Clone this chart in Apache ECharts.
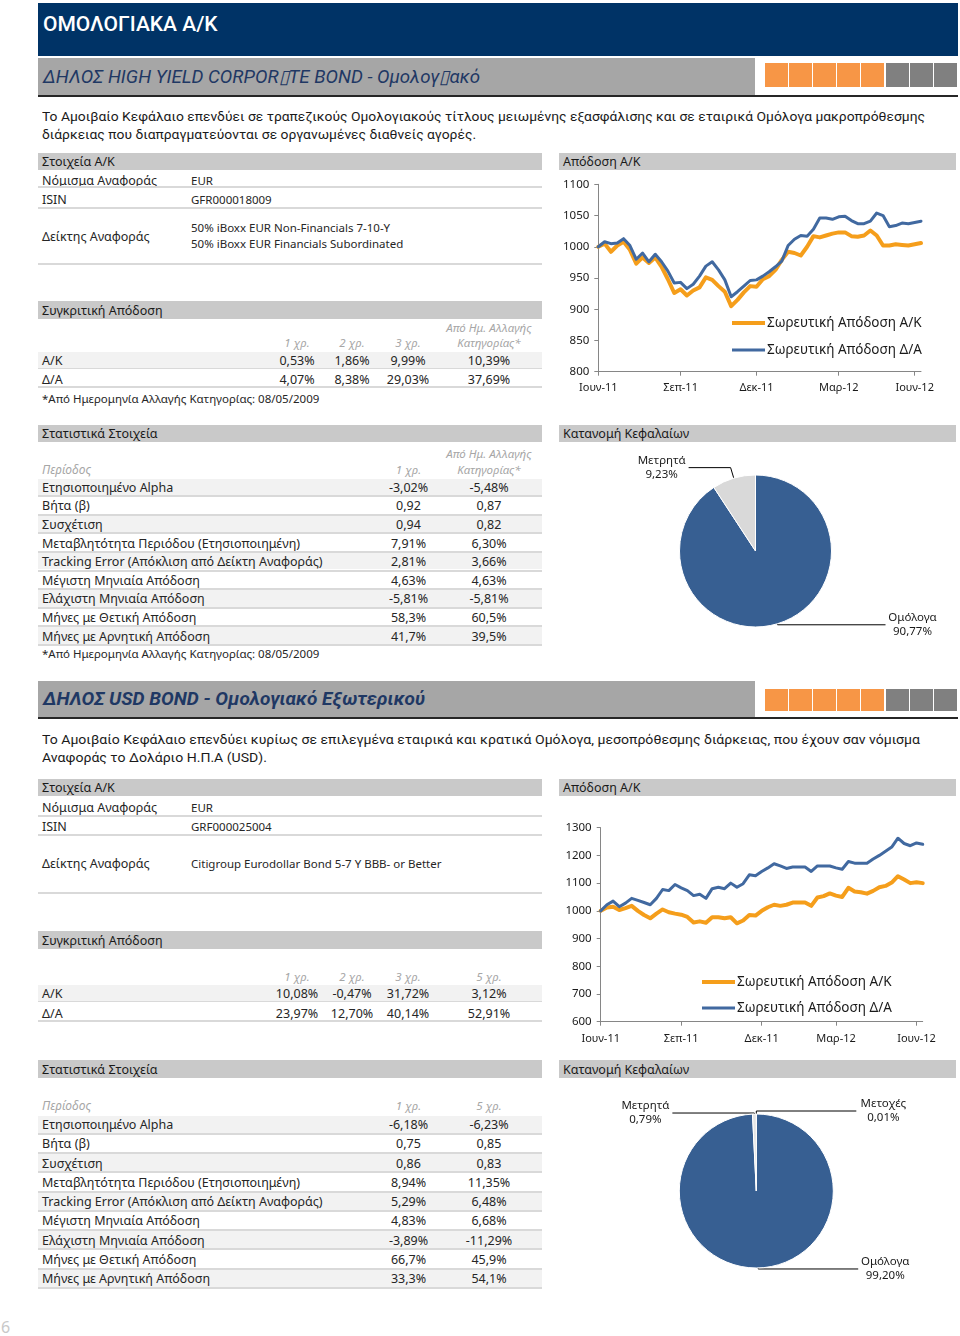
<!DOCTYPE html>
<html lang="el">
<head>
<meta charset="utf-8">
<title>ΟΜΟΛΟΓΙΑΚΑ Α/Κ</title>
<script src="https://cdn.jsdelivr.net/npm/echarts@6.0.0/dist/echarts.min.js"></script>
<style>
html,body{margin:0;padding:0;}
body{width:960px;height:1336px;position:relative;overflow:hidden;background:#fff;font-family:"Noto Sans",sans-serif;color:#262626;}
.t{position:absolute;white-space:nowrap;font-size:12px;}
.b{position:absolute;}
.chart{position:absolute;}
</style>
</head>
<body>
<script>
// ================= DATA =================
const pageTitle = 'ΟΜΟΛΟΓΙΑΚΑ Α/Κ';
const pageNumber = '6';

const f1Title = 'ΔΗΛΟΣ HIGH YIELD CORPOR\u25AFTE BOND - Ομολογ\u25AFακό';
const f2Title = 'ΔΗΛΟΣ USD BOND - Ομολογιακό Εξωτερικού';

const f1Desc = [
  'Το Αμοιβαίο Κεφάλαιο επενδύει σε τραπεζικούς Ομολογιακούς τίτλους μειωμένης εξασφάλισης και σε εταιρικά Ομόλογα μακροπρόθεσμης',
  'διάρκειας που διαπραγματεύονται σε οργανωμένες διαθνείς αγορές.'
];
const f2Desc = [
  'Το Αμοιβαίο Κεφάλαιο επενδύει κυρίως σε επιλεγμένα εταιρικά και κρατικά Ομόλογα, μεσοπρόθεσμης διάρκειας, που έχουν σαν νόμισμα',
  'Αναφοράς το Δολάριο Η.Π.Α (USD).'
];

const secInfo = 'Στοιχεία Α/Κ';
const secPerf = 'Συγκριτική Απόδοση';
const secStats = 'Στατιστικά Στοιχεία';
const secChart = 'Απόδοση Α/Κ';
const secPie = 'Κατανομή Κεφαλαίων';

const infoLabels = ['Νόμισμα Αναφοράς', 'ISIN', 'Δείκτης Αναφοράς'];
const f1Info = [['EUR'], ['GFR000018009'], ['50% iBoxx EUR Non-Financials 7-10-Y', '50% iBoxx EUR Financials Subordinated']];
const f2Info = [['EUR'], ['GRF000025004'], ['Citigroup Eurodollar Bond 5-7 Y BBB- or Better']];

const perfRowLabels = ['Α/Κ', 'Δ/Α'];
const sinceLabel = 'Από Ημ. Αλλαγής';
const f1PerfHeads = ['1 χρ.', '2 χρ.', '3 χρ.', 'Κατηγορίας*'];
const f1PerfFund = ['0,53%', '1,86%', '9,99%', '10,39%'];
const f1PerfBench = ['4,07%', '8,38%', '29,03%', '37,69%'];
const f2PerfHeads = ['1 χρ.', '2 χρ.', '3 χρ.', '5 χρ.'];
const f2PerfFund = ['10,08%', '-0,47%', '31,72%', '3,12%'];
const f2PerfBench = ['23,97%', '12,70%', '40,14%', '52,91%'];

const periodLabel = 'Περίοδος';
const statLabels = [
  'Ετησιοποιημένο Alpha', 'Βήτα (β)', 'Συσχέτιση',
  'Μεταβλητότητα Περιόδου (Ετησιοποιημένη)',
  'Tracking Error (Απόκλιση από Δείκτη Αναφοράς)',
  'Μέγιστη Μηνιαία Απόδοση', 'Ελάχιστη Μηνιαία Απόδοση',
  'Μήνες με Θετική Απόδοση', 'Μήνες με Αρνητική Απόδοση'
];
const f1StatHeads = ['1 χρ.', 'Κατηγορίας*'];
const f1StatCol1 = ['-3,02%', '0,92', '0,94', '7,91%', '2,81%', '4,63%', '-5,81%', '58,3%', '41,7%'];
const f1StatCol2 = ['-5,48%', '0,87', '0,82', '6,30%', '3,66%', '4,63%', '-5,81%', '60,5%', '39,5%'];
const f2StatHeads = ['1 χρ.', '5 χρ.'];
const f2StatCol1 = ['-6,18%', '0,75', '0,86', '8,94%', '5,29%', '4,83%', '-3,89%', '66,7%', '33,3%'];
const f2StatCol2 = ['-6,23%', '0,85', '0,83', '11,35%', '6,48%', '6,68%', '-11,29%', '45,9%', '54,1%'];
const footnote = '*Από Ημερομηνία Αλλαγής Κατηγορίας: 08/05/2009';

// line charts (weekly observations, Jun-11 .. Jun-12)
const xTickLabels = ['Ιουν-11', 'Σεπ-11', 'Δεκ-11', 'Μαρ-12', 'Ιουν-12'];
const c1TickIdx = [0, 13, 25, 38, 50];
const c2TickIdx = [0, 13, 26, 38, 51];
const legendNames = ['Σωρευτική Απόδοση Α/Κ', 'Σωρευτική Απόδοση Δ/Α'];
const c1Fund = [1000,1005,992,1002,1008,995,973,983,974,983,968,948,926,932,922,930,935,951,947,937,928,905,915,927,937,936,948,953,963,979,992,990,986,1000,1017,1015,1018,1021,1023,1023,1017,1016,1018,1026,1018,1002,1002,1004,1003,1002,1004,1006];
const c1Bench = [1000,1008,1005,1006,1013,1002,980,990,976,988,976,961,942,943,933,940,953,969,976,963,947,920,928,937,946,947,953,960,968,977,1002,1012,1018,1017,1028,1046,1046,1044,1048,1049,1042,1037,1037,1041,1054,1050,1032,1034,1038,1037,1039,1041];
const c2Fund = [1000,1012,1015,1003,1010,1018,1000,985,973,990,1005,995,990,986,978,958,962,957,977,977,973,977,955,965,985,983,1000,1013,1022,1018,1022,1030,1030,1030,1018,1048,1053,1063,1055,1050,1083,1070,1067,1062,1072,1085,1090,1102,1125,1113,1100,1103,1100];
const c2Bench = [1000,1022,1035,1015,1028,1045,1038,1030,1022,1045,1077,1073,1095,1083,1073,1055,1060,1045,1080,1085,1080,1100,1085,1098,1130,1127,1142,1155,1170,1162,1153,1158,1158,1158,1142,1162,1162,1162,1155,1150,1178,1172,1172,1172,1187,1200,1215,1230,1262,1243,1235,1245,1240];

// asset allocation
const pie1Names = ['Ομόλογα', 'Μετρητά'];
const pie1Values = [90.77, 9.23];
const pie2Names = ['Μετοχές', 'Ομόλογα', 'Μετρητά'];
const pie2Values = [0.01, 99.20, 0.79];

// ================= STYLE / LAYOUT =================
const NAVY = '#003366', TITLE_BLUE = '#1f3864', FUND_GRAY = '#a6a6a6', SEC_GRAY = '#c9c9c9';
const BAND = '#f2f2f2', SEP = '#d9d9d9', HEAD_GRAY = '#a6a6a6', TXT = '#262626';
const ORANGE = '#f59e1b', BLUE = '#4169a0', PIE_BLUE = '#375f92';
const SQUARE_COLORS = ['#f79646','#f79646','#f79646','#f79646','#f79646','#808080','#808080','#808080'];
const LEG_ICONS = ['path://M0,0 L33,0 L33,4 L0,4 Z', 'path://M0,0 L33,0 L33,3 L0,3 Z'];

function box(x, y, w, h, bg) {
  const d = document.createElement('div');
  d.className = 'b';
  Object.assign(d.style, {left: x + 'px', top: y + 'px', width: w + 'px', height: h + 'px', background: bg});
  document.body.appendChild(d);
  return d;
}
function text(s, x, yc, o = {}) {
  const d = document.createElement('div');
  d.className = 't';
  d.textContent = s;
  const lh = o.lh || 16;
  d.style.top = (yc - lh / 2) + 'px';
  d.style.lineHeight = lh + 'px';
  if (o.align === 'center') { d.style.left = (x - 100) + 'px'; d.style.width = '200px'; d.style.textAlign = 'center'; }
  else if (o.align === 'right') { d.style.left = (x - 200) + 'px'; d.style.width = '200px'; d.style.textAlign = 'right'; }
  else d.style.left = x + 'px';
  if (o.size) d.style.fontSize = o.size + 'px';
  d.style.color = o.color || TXT;
  if (o.italic) d.style.fontStyle = 'italic';
  if (o.weight) d.style.fontWeight = o.weight;
  if (o.family) d.style.fontFamily = o.family;
  if (o.ls) d.style.letterSpacing = o.ls + 'px';
  document.body.appendChild(d);
  return d;
}
function secBar(x, y, w, h, label) {
  box(x, y, w, h, SEC_GRAY);
  text(label, x + 4, y + h / 2 + 0.5, {size: 12.5, color: '#1a1a1a'});
}

// ---- page header
box(38, 3, 920, 53, NAVY);
text(pageTitle, 43, 24, {size: 21, color: '#ffffff', family: 'Roboto', weight: 500, lh: 30});
text(pageNumber, 1, 1327, {size: 16, color: '#c8c8c8', lh: 20});

const LX = 38, LW = 504, TX = 42, VX = 191;
const RX = 559, RW = 397;
const PERF_X = [297, 352, 408, 489];
const STAT_X = [408.5, 489];

function fundHeader(L, title, desc, bold) {
  box(38, L.barY, 717, L.barH, FUND_GRAY);
  text(title, 43, L.barY + L.barH / 2, {size: L.titleSize, color: TITLE_BLUE, family: 'Roboto', italic: true, weight: bold ? 700 : 400, lh: 24});
  SQUARE_COLORS.forEach((c, i) => {
    box(765 + i * 24.1, L.sqY, 23.1, L.sqH, c);
  });
  box(38, L.ruleY, 920, 2, '#262626');
  const d1 = text(desc[0], 42, L.descY[0], {size: 13.5, family: 'Roboto', lh: 18, color: '#1a1a1a'});
  const d2 = text(desc[1], 42, L.descY[1], {size: 13.5, family: 'Roboto', lh: 18, color: '#1a1a1a'});
  const w = d1.getBoundingClientRect().width;
  const k = L.descW / w;
  [d1, d2].forEach(d => { d.style.transformOrigin = 'left center'; d.style.transform = `scaleX(${k})`; });
}

function infoTable(L, info) {
  secBar(LX, L.infoBarY, LW, 17, secInfo);
  infoLabels.forEach((lab, i) => {
    text(lab, TX, L.infoY[i], {size: 12.5});
    info[i].forEach((v, j) => text(v, VX, L.infoValY[i][j], {size: 11.5}));
    box(LX, L.infoSep[i], LW, 2, SEP);
  });
}

function perfTable(L, heads, fundVals, benchVals, since, withNote) {
  secBar(LX, L.perfBarY, LW, 18, secPerf);
  if (since) text(since, PERF_X[3], L.perfHeadTopY, {size: 11.5, italic: true, color: HEAD_GRAY, align: 'center'});
  heads.forEach((h, i) => text(h, PERF_X[i], L.perfHeadY, {size: 11.5, italic: true, color: HEAD_GRAY, align: 'center'}));
  box(LX, L.perfBandY, LW, L.perfBandH, BAND);
  box(LX, L.perfSep[0], LW, 1, SEP);
  box(LX, L.perfSep[1], LW, 2, SEP);
  [fundVals, benchVals].forEach((vals, r) => {
    text(perfRowLabels[r], TX, L.perfRowY[r], {size: 12.5});
    vals.forEach((v, i) => text(v, PERF_X[i], L.perfRowY[r], {size: 12.5, align: 'center'}));
  });
  if (withNote) text(footnote, TX, L.perfNoteY, {size: 11.5});
}

function statsTable(L, heads, col1, col2, since, withNote) {
  secBar(LX, L.statBarY, LW, L.statBarH, secStats);
  if (since) text(since, STAT_X[1], L.statHeadTopY, {size: 11.5, italic: true, color: HEAD_GRAY, align: 'center'});
  text(periodLabel, TX, L.statHeadY, {size: 12, italic: true, color: HEAD_GRAY});
  heads.forEach((h, i) => text(h, STAT_X[i], L.statHeadY, {size: 11.5, italic: true, color: HEAD_GRAY, align: 'center'}));
  statLabels.forEach((lab, i) => {
    const top = L.statTop + i * L.statRH;
    if (i % 2 === 0) box(LX, top, LW, L.statRH - 2, BAND);
    box(LX, top + L.statRH - 2, LW, 2, SEP);
    const yc = top + L.statRH / 2;
    text(lab, TX, yc, {size: 12.5});
    text(col1[i], STAT_X[0], yc, {size: 12.5, align: 'center'});
    text(col2[i], STAT_X[1], yc, {size: 12.5, align: 'center'});
  });
  if (withNote) text(footnote, TX, L.statNoteY, {size: 11.5});
}

function chartDiv(x, y, w, h) {
  const d = document.createElement('div');
  d.className = 'chart';
  Object.assign(d.style, {left: x + 'px', top: y + 'px', width: w + 'px', height: h + 'px'});
  document.body.appendChild(d);
  return d;
}

function lineChart(L, fund, bench, tickIdx, yMin, yMax, yInt) {
  secBar(RX, L.chartBarY, RW, 17, secChart);
  const el = chartDiv(555, L.chartY, 405, L.chartH);
  const ch = echarts.init(el, null, {renderer: 'canvas'});
  const cats = fund.map((_, i) => String(i + 1));
  const showTick = (i) => tickIdx.includes(i);
  ch.setOption({
    animation: false,
    grid: L.grid,
    legend: {
      orient: 'vertical', left: L.legLeft, top: L.legTop, itemWidth: 33, itemHeight: 14, itemGap: L.legGap,
      selectedMode: false, symbolKeepAspect: true,
      textStyle: {fontSize: 13.5, color: '#1a1a1a', fontFamily: 'Noto Sans', padding: [0, 0, 0, -3]},
      data: legendNames.map((n, i) => ({name: n, icon: LEG_ICONS[i]}))
    },
    xAxis: {
      type: 'category', boundaryGap: false, data: cats,
      axisLine: {lineStyle: {color: '#868686', width: 1}},
      axisTick: {interval: showTick, length: 4, lineStyle: {color: '#868686'}},
      axisLabel: {interval: showTick, formatter: (v, i) => xTickLabels[tickIdx.indexOf(i)] || '', color: '#1a1a1a', fontSize: 11, fontFamily: 'Noto Sans', margin: L.xLabMargin},
      splitLine: {show: false}
    },
    yAxis: {
      type: 'value', min: yMin, max: yMax, interval: yInt,
      axisLine: {show: true, lineStyle: {color: '#868686', width: 1}},
      axisTick: {show: true, length: 4, lineStyle: {color: '#868686'}},
      axisLabel: {formatter: v => String(v), color: '#1a1a1a', fontSize: 11.5, fontFamily: 'Noto Sans', margin: 9},
      splitLine: {show: false}
    },
    series: [
      {name: legendNames[0], type: 'line', data: fund, symbol: 'none', lineStyle: {width: 4, color: ORANGE, cap: 'round', join: 'round'}, itemStyle: {color: ORANGE}},
      {name: legendNames[1], type: 'line', data: bench, symbol: 'none', lineStyle: {width: 3, color: BLUE, cap: 'round', join: 'round'}, itemStyle: {color: BLUE}}
    ]
  });
}

function pct(v) { return v.toFixed(2).replace('.', ',') + '%'; }

function pieChart(L, names, values, colors, lines) {
  secBar(RX, L.pieBarY, RW, L.pieBarH, secPie);
  const el = chartDiv(555, L.pieY, 405, L.pieH);
  const ch = echarts.init(el, null, {renderer: 'canvas'});
  ch.setOption({
    animation: false,
    series: [{
      type: 'pie', center: L.pieCenter, radius: L.pieR, startAngle: 90, clockwise: true,
      avoidLabelOverlap: false, emphasis: {disabled: true},
      itemStyle: {borderColor: '#ffffff', borderWidth: 1},
      label: {
        show: true, position: 'outside', alignTo: 'none', distanceToLabelLine: 2,
        formatter: p => `{a|${p.name}}\n{a|${pct(p.value)}}`,
        rich: {a: {width: 50, align: 'center', fontSize: 11.5, lineHeight: 14, color: '#1a1a1a', fontFamily: 'Noto Sans'}}
      },
      labelLine: {show: true, smooth: false, lineStyle: {color: '#000000', width: 1}},
      data: names.map((n, i) => ({
        name: n, value: values[i], itemStyle: {color: colors[i]},
        labelLine: {length: lines[i][0], length2: lines[i][1]}
      }))
    }]
  });
}

// ---- layouts
const L1 = {
  barY: 58, barH: 37, titleSize: 18.7, sqY: 63, sqH: 24, ruleY: 95, descY: [116, 134], descW: 883,
  infoBarY: 153, infoY: [181, 200, 237], infoValY: [[181], [200], [228, 244]], infoSep: [186, 207, 263],
  perfBarY: 301, perfHeadTopY: 328, perfHeadY: 343, perfBandY: 352, perfBandH: 16, perfSep: [368, 386], perfRowY: [361, 380], perfNoteY: 399,
  statBarY: 425, statBarH: 17, statHeadTopY: 453.5, statHeadY: 469.5, statTop: 478.5, statRH: 18.6, statNoteY: 654,
  chartBarY: 153, chartY: 171, chartH: 230,
  grid: {left: 43.3, right: 39, top: 13.3, bottom: 29.3}, xLabMargin: 11,
  legLeft: 172, legTop: 140, legGap: 13,
  pieBarY: 425, pieBarH: 17, pieY: 443, pieH: 237, pieCenter: [200.5, 108], pieR: 76
};
const L2 = {
  barY: 681, barH: 36, titleSize: 19, sqY: 689, sqH: 22, ruleY: 717, descY: [739, 757], descW: 878,
  infoBarY: 779, infoY: [808, 827, 864], infoValY: [[808], [827], [864]], infoSep: [815, 834, 892],
  perfBarY: 931, perfHeadY: 977, perfBandY: 985, perfBandH: 16, perfSep: [1001, 1020], perfRowY: [993.5, 1013.5],
  statBarY: 1060, statBarH: 18, statHeadY: 1106, statTop: 1115.5, statRH: 19.25,
  chartBarY: 779, chartY: 797, chartH: 253,
  grid: {left: 45.7, right: 37.3, top: 30.7, bottom: 28.3}, xLabMargin: 12,
  legLeft: 142, legTop: 173, legGap: 12,
  pieBarY: 1060, pieBarH: 18, pieY: 1079, pieH: 257, pieCenter: [201.3, 112], pieR: 77
};

// ---- build fund 1
fundHeader(L1, f1Title, f1Desc, false);
infoTable(L1, f1Info);
perfTable(L1, f1PerfHeads, f1PerfFund, f1PerfBench, sinceLabel, true);
statsTable(L1, f1StatHeads, f1StatCol1, f1StatCol2, sinceLabel, true);
lineChart(L1, c1Fund, c1Bench, c1TickIdx, 800, 1100, 50);
pieChart(L1, pie1Names, pie1Values, [PIE_BLUE, '#d9d9d9'], [[1, 108], [11, 42]]);

// ---- build fund 2
fundHeader(L2, f2Title, f2Desc, true);
infoTable(L2, f2Info);
perfTable(L2, f2PerfHeads, f2PerfFund, f2PerfBench, null, false);
statsTable(L2, f2StatHeads, f2StatCol1, f2StatCol2, null, false);
lineChart(L2, c2Fund, c2Bench, c2TickIdx, 600, 1300, 100);
pieChart(L2, pie2Names, pie2Values, ['#d9d9d9', PIE_BLUE, '#e4e4e4'], [[3, 100], [1, 100], [1, 82]]);
</script>
</body>
</html>
